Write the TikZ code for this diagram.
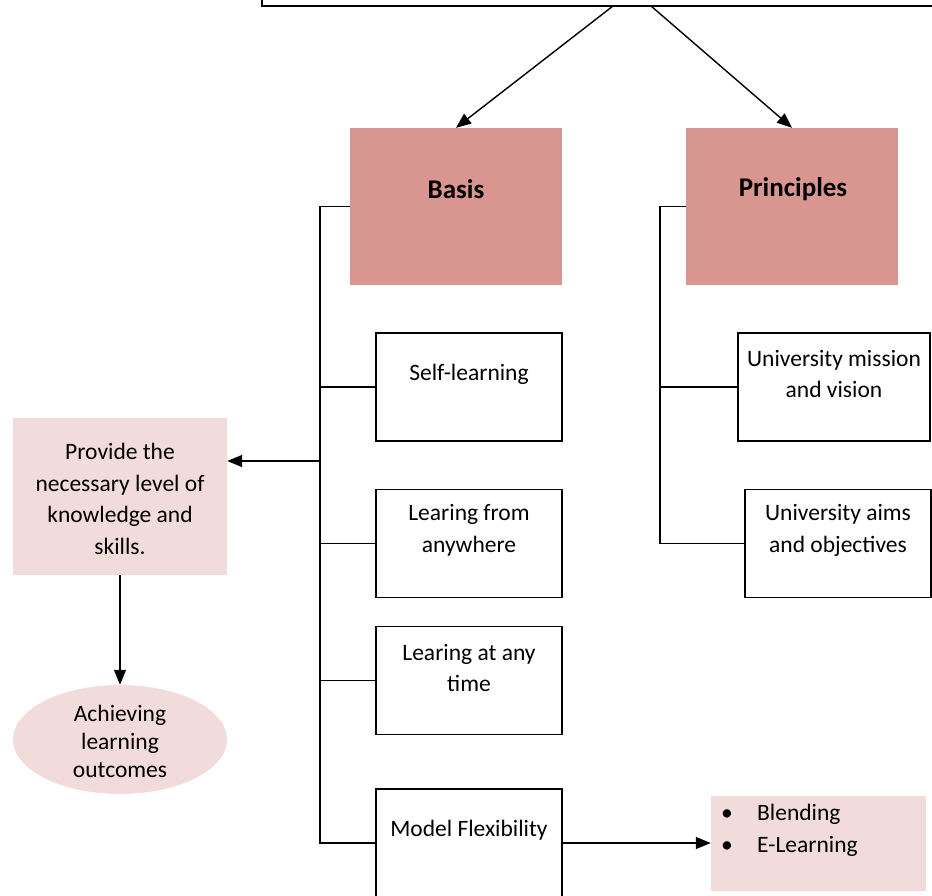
\documentclass[tikz,border=0pt]{standalone}
\usepackage{fontspec}
\setmainfont{Carlito}
\usetikzlibrary{arrows.meta,shapes.geometric}
\definecolor{darkrose}{RGB}{217,149,143}
\definecolor{lightrose}{RGB}{242,220,219}
\tikzset{
  wbox/.style={draw=black, fill=white, line width=1.4pt, minimum width=186pt, minimum height=108pt, inner sep=0pt},
  rbox/.style={fill=darkrose, minimum width=212pt, minimum height=157pt, inner sep=0pt},
  lbox/.style={fill=lightrose, inner sep=0pt},
  txt/.style={font=\fontsize{23.5}{31.5}\selectfont, align=center, inner sep=0pt},
  btxt/.style={font=\bfseries\fontsize{27}{32}\selectfont, align=center, inner sep=0pt},
  arr/.style={-{Triangle[length=15pt,width=12pt]}, line width=1.4pt},
  conn/.style={line width=1.4pt}
}
\begin{document}
\begin{tikzpicture}[x=1pt,y=-1pt]
\useasboundingbox (0,0) rectangle (932,896);
\clip (0,0) rectangle (932,896);
% top box (cut off)
\node[draw=black, line width=1.4pt, minimum width=738pt, minimum height=66pt, inner sep=0pt] (top) at (631,-27) {};
\coordinate (ta) at (613,6);
\coordinate (tb) at (651,6);
% main boxes
\node[rbox] (basis) at (456,206.5) {};
\node[btxt] (basistxt) at (456,189) {Basis};
\node[rbox] (principles) at (792,206.5) {};
\node[btxt] (principlestxt) at (793,189.5) {Principles};
\draw[arr] (ta) -- (basis.north);
\draw[arr] (tb) -- (principles.north);
% basis children
\node[wbox] (selfl) at (469,387) {};
\node[txt] (selfltxt) at (469,374) {Self-learning};
\node[wbox] (anywhere) at (469,543.5) {};
\node[txt] (anywheretxt) at (469,530.5) {Learing from\\anywhere};
\node[wbox] (anytime) at (469,680.5) {};
\node[txt] (anytimetxt) at (469,668) {Learing at any\\time};
\node[wbox] (model) at (469,843) {};
\node[txt] (modeltxt) at (469,830) {Model Flexibility};
% principles children
\node[wbox, minimum width=192pt] (mission) at (834,387) {};
\node[txt] (missiontxt) at (834,374) {University mission\\and vision};
\node[wbox] (aims) at (838,543.5) {};
\node[txt] (aimstxt) at (838,530.5) {University aims\\and objectives};
% left side
\node[lbox, minimum width=214pt, minimum height=157pt] (provide) at (120,496.5) {};
\node[txt] (providetxt) at (120,499) {Provide the\\necessary level of\\knowledge and\\skills.};
\node[lbox, ellipse, minimum width=214pt, minimum height=109pt] (achieve) at (120,739.5) {};
\node[txt, font=\fontsize{23.5}{28}\selectfont] (achievetxt) at (120,741) {Achieving\\learning\\outcomes};
% blending box
\node[lbox, minimum width=215pt, minimum height=95pt] (blend) at (818.5,843) {};
\node[txt, align=left, anchor=west] (blendtxt) at (721,830.5) {\makebox[36pt][l]{•}Blending\\\makebox[36pt][l]{•}E-Learning};
% basis tree
\coordinate (bt) at (320,206.5);
\coordinate (pj) at (320,461);
\coordinate (pt) at (660,206.5);
\draw[conn] (basis.west) -- (bt) |- (model.west);
\draw[conn] (selfl.west) -- (selfl.west -| bt);
\draw[conn] (anywhere.west) -- (anywhere.west -| bt);
\draw[conn] (anytime.west) -- (anytime.west -| bt);
\draw[arr] (pj) -- (pj -| provide.east);
\draw[arr] (provide.south) -- (achieve.north);
\draw[arr] (model.east) -- (blend.west);
% principles tree
\draw[conn] (principles.west) -- (pt) |- (aims.west);
\draw[conn] (mission.west) -- (mission.west -| pt);
\end{tikzpicture}
\end{document}
